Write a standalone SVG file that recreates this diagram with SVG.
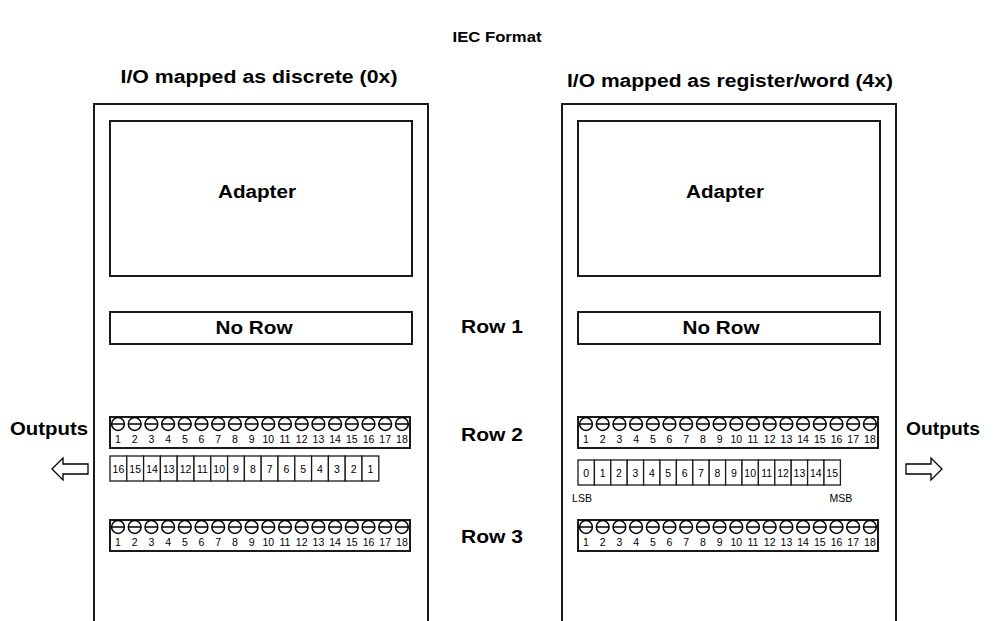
<svg xmlns="http://www.w3.org/2000/svg" xmlns:xlink="http://www.w3.org/1999/xlink" width="997" height="621" viewBox="0 0 997 621">
<style>
.box{fill:#fff;stroke:#1a1a1a;stroke-width:2}
.thin{fill:#fff;stroke:#1a1a1a;stroke-width:1.3}
.t{font-family:"Liberation Sans",Arial,sans-serif;font-weight:bold;fill:#000}
.n{font-family:"Liberation Sans",Arial,sans-serif;font-size:10.5px;fill:#000;text-anchor:middle}
.s{fill:#fff;stroke:#000;stroke-width:1.5}
.arr{fill:#fff;stroke:#000;stroke-width:1.3}
</style>
<defs>
<g id="screw"><circle class="s" r="6.4"/><line x1="-6.4" y1="0" x2="6.4" y2="0" stroke="#000" stroke-width="1.5"/></g>
</defs>
<rect width="997" height="621" fill="#fff"/>
<text class="t" x="497" y="42" font-size="15" text-anchor="middle" textLength="89" lengthAdjust="spacingAndGlyphs">IEC Format</text>

<g id="left">
<text class="t" x="259" y="83" font-size="18" text-anchor="middle" textLength="277" lengthAdjust="spacingAndGlyphs">I/O mapped as discrete (0x)</text>
<rect class="box" x="94" y="104" width="334" height="520"/>
<g id="left-adapter"><rect class="box" x="110" y="121" width="302" height="155"/>
<text class="t" x="257" y="198" font-size="18" text-anchor="middle" textLength="78" lengthAdjust="spacingAndGlyphs">Adapter</text></g>
<g id="left-norow"><rect class="box" x="110" y="312" width="302" height="32"/>
<text class="t" x="254" y="334" font-size="18" text-anchor="middle" textLength="77" lengthAdjust="spacingAndGlyphs">No Row</text></g>
<g id="left-row2">
<rect class="box" x="110" y="417" width="300" height="31"/>
<use xlink:href="#screw" x="118" y="424"/><use xlink:href="#screw" x="134.7" y="424"/><use xlink:href="#screw" x="151.4" y="424"/><use xlink:href="#screw" x="168.1" y="424"/><use xlink:href="#screw" x="184.8" y="424"/><use xlink:href="#screw" x="201.5" y="424"/><use xlink:href="#screw" x="218.2" y="424"/><use xlink:href="#screw" x="234.9" y="424"/><use xlink:href="#screw" x="251.6" y="424"/><use xlink:href="#screw" x="268.3" y="424"/><use xlink:href="#screw" x="285" y="424"/><use xlink:href="#screw" x="301.7" y="424"/><use xlink:href="#screw" x="318.4" y="424"/><use xlink:href="#screw" x="335.1" y="424"/><use xlink:href="#screw" x="351.8" y="424"/><use xlink:href="#screw" x="368.5" y="424"/><use xlink:href="#screw" x="385.2" y="424"/><use xlink:href="#screw" x="401.9" y="424"/>
<text class="n" x="118" y="443">1</text><text class="n" x="134.7" y="443">2</text><text class="n" x="151.4" y="443">3</text><text class="n" x="168.1" y="443">4</text><text class="n" x="184.8" y="443">5</text><text class="n" x="201.5" y="443">6</text><text class="n" x="218.2" y="443">7</text><text class="n" x="234.9" y="443">8</text><text class="n" x="251.6" y="443">9</text><text class="n" x="268.3" y="443">10</text><text class="n" x="285" y="443">11</text><text class="n" x="301.7" y="443">12</text><text class="n" x="318.4" y="443">13</text><text class="n" x="335.1" y="443">14</text><text class="n" x="351.8" y="443">15</text><text class="n" x="368.5" y="443">16</text><text class="n" x="385.2" y="443">17</text><text class="n" x="401.9" y="443">18</text>
</g>
<g id="left-bits">
<rect class="thin" x="110" y="456" width="16.8" height="25"/><rect class="thin" x="126.8" y="456" width="16.8" height="25"/><rect class="thin" x="143.6" y="456" width="16.8" height="25"/><rect class="thin" x="160.4" y="456" width="16.8" height="25"/><rect class="thin" x="177.2" y="456" width="16.8" height="25"/><rect class="thin" x="194" y="456" width="16.8" height="25"/><rect class="thin" x="210.8" y="456" width="16.8" height="25"/><rect class="thin" x="227.6" y="456" width="16.8" height="25"/><rect class="thin" x="244.4" y="456" width="16.8" height="25"/><rect class="thin" x="261.2" y="456" width="16.8" height="25"/><rect class="thin" x="278" y="456" width="16.8" height="25"/><rect class="thin" x="294.8" y="456" width="16.8" height="25"/><rect class="thin" x="311.6" y="456" width="16.8" height="25"/><rect class="thin" x="328.4" y="456" width="16.8" height="25"/><rect class="thin" x="345.2" y="456" width="16.8" height="25"/><rect class="thin" x="362" y="456" width="16.8" height="25"/>
<text class="n" x="118.4" y="473">16</text><text class="n" x="135.2" y="473">15</text><text class="n" x="152" y="473">14</text><text class="n" x="168.8" y="473">13</text><text class="n" x="185.6" y="473">12</text><text class="n" x="202.4" y="473">11</text><text class="n" x="219.2" y="473">10</text><text class="n" x="236" y="473">9</text><text class="n" x="252.8" y="473">8</text><text class="n" x="269.6" y="473">7</text><text class="n" x="286.4" y="473">6</text><text class="n" x="303.2" y="473">5</text><text class="n" x="320" y="473">4</text><text class="n" x="336.8" y="473">3</text><text class="n" x="353.6" y="473">2</text><text class="n" x="370.4" y="473">1</text>
</g>
<g id="left-row3">
<rect class="box" x="110" y="520" width="300" height="31"/>
<use xlink:href="#screw" x="118" y="527"/><use xlink:href="#screw" x="134.7" y="527"/><use xlink:href="#screw" x="151.4" y="527"/><use xlink:href="#screw" x="168.1" y="527"/><use xlink:href="#screw" x="184.8" y="527"/><use xlink:href="#screw" x="201.5" y="527"/><use xlink:href="#screw" x="218.2" y="527"/><use xlink:href="#screw" x="234.9" y="527"/><use xlink:href="#screw" x="251.6" y="527"/><use xlink:href="#screw" x="268.3" y="527"/><use xlink:href="#screw" x="285" y="527"/><use xlink:href="#screw" x="301.7" y="527"/><use xlink:href="#screw" x="318.4" y="527"/><use xlink:href="#screw" x="335.1" y="527"/><use xlink:href="#screw" x="351.8" y="527"/><use xlink:href="#screw" x="368.5" y="527"/><use xlink:href="#screw" x="385.2" y="527"/><use xlink:href="#screw" x="401.9" y="527"/>
<text class="n" x="118" y="546">1</text><text class="n" x="134.7" y="546">2</text><text class="n" x="151.4" y="546">3</text><text class="n" x="168.1" y="546">4</text><text class="n" x="184.8" y="546">5</text><text class="n" x="201.5" y="546">6</text><text class="n" x="218.2" y="546">7</text><text class="n" x="234.9" y="546">8</text><text class="n" x="251.6" y="546">9</text><text class="n" x="268.3" y="546">10</text><text class="n" x="285" y="546">11</text><text class="n" x="301.7" y="546">12</text><text class="n" x="318.4" y="546">13</text><text class="n" x="335.1" y="546">14</text><text class="n" x="351.8" y="546">15</text><text class="n" x="368.5" y="546">16</text><text class="n" x="385.2" y="546">17</text><text class="n" x="401.9" y="546">18</text>
</g>
</g>

<g id="rows">
<text class="t" x="492" y="333" font-size="18" text-anchor="middle" textLength="62" lengthAdjust="spacingAndGlyphs">Row 1</text>
<text class="t" x="492" y="441" font-size="18" text-anchor="middle" textLength="62" lengthAdjust="spacingAndGlyphs">Row 2</text>
<text class="t" x="492" y="543" font-size="18" text-anchor="middle" textLength="62" lengthAdjust="spacingAndGlyphs">Row 3</text>
</g>

<g id="right">
<text class="t" x="730" y="87" font-size="18" text-anchor="middle" textLength="326" lengthAdjust="spacingAndGlyphs">I/O mapped as register/word (4x)</text>
<rect class="box" x="562" y="104" width="334" height="520"/>
<g id="right-adapter"><rect class="box" x="578" y="121" width="302" height="155"/>
<text class="t" x="725" y="198" font-size="18" text-anchor="middle" textLength="78" lengthAdjust="spacingAndGlyphs">Adapter</text></g>
<g id="right-norow"><rect class="box" x="578" y="312" width="302" height="32"/>
<text class="t" x="721" y="334" font-size="18" text-anchor="middle" textLength="77" lengthAdjust="spacingAndGlyphs">No Row</text></g>
<g id="right-row2">
<rect class="box" x="578" y="417" width="300" height="31"/>
<use xlink:href="#screw" x="586" y="424"/><use xlink:href="#screw" x="602.7" y="424"/><use xlink:href="#screw" x="619.4" y="424"/><use xlink:href="#screw" x="636.1" y="424"/><use xlink:href="#screw" x="652.8" y="424"/><use xlink:href="#screw" x="669.5" y="424"/><use xlink:href="#screw" x="686.2" y="424"/><use xlink:href="#screw" x="702.9" y="424"/><use xlink:href="#screw" x="719.6" y="424"/><use xlink:href="#screw" x="736.3" y="424"/><use xlink:href="#screw" x="753" y="424"/><use xlink:href="#screw" x="769.7" y="424"/><use xlink:href="#screw" x="786.4" y="424"/><use xlink:href="#screw" x="803.1" y="424"/><use xlink:href="#screw" x="819.8" y="424"/><use xlink:href="#screw" x="836.5" y="424"/><use xlink:href="#screw" x="853.2" y="424"/><use xlink:href="#screw" x="869.9" y="424"/>
<text class="n" x="586" y="443">1</text><text class="n" x="602.7" y="443">2</text><text class="n" x="619.4" y="443">3</text><text class="n" x="636.1" y="443">4</text><text class="n" x="652.8" y="443">5</text><text class="n" x="669.5" y="443">6</text><text class="n" x="686.2" y="443">7</text><text class="n" x="702.9" y="443">8</text><text class="n" x="719.6" y="443">9</text><text class="n" x="736.3" y="443">10</text><text class="n" x="753" y="443">11</text><text class="n" x="769.7" y="443">12</text><text class="n" x="786.4" y="443">13</text><text class="n" x="803.1" y="443">14</text><text class="n" x="819.8" y="443">15</text><text class="n" x="836.5" y="443">16</text><text class="n" x="853.2" y="443">17</text><text class="n" x="869.9" y="443">18</text>
</g>
<g id="right-bits">
<rect class="thin" x="578" y="460" width="16.4" height="25"/><rect class="thin" x="594.4" y="460" width="16.4" height="25"/><rect class="thin" x="610.8" y="460" width="16.4" height="25"/><rect class="thin" x="627.2" y="460" width="16.4" height="25"/><rect class="thin" x="643.6" y="460" width="16.4" height="25"/><rect class="thin" x="660" y="460" width="16.4" height="25"/><rect class="thin" x="676.4" y="460" width="16.4" height="25"/><rect class="thin" x="692.8" y="460" width="16.4" height="25"/><rect class="thin" x="709.2" y="460" width="16.4" height="25"/><rect class="thin" x="725.6" y="460" width="16.4" height="25"/><rect class="thin" x="742" y="460" width="16.4" height="25"/><rect class="thin" x="758.4" y="460" width="16.4" height="25"/><rect class="thin" x="774.8" y="460" width="16.4" height="25"/><rect class="thin" x="791.2" y="460" width="16.4" height="25"/><rect class="thin" x="807.6" y="460" width="16.4" height="25"/><rect class="thin" x="824" y="460" width="16.4" height="25"/>
<text class="n" x="586.2" y="477">0</text><text class="n" x="602.6" y="477">1</text><text class="n" x="619" y="477">2</text><text class="n" x="635.4" y="477">3</text><text class="n" x="651.8" y="477">4</text><text class="n" x="668.2" y="477">5</text><text class="n" x="684.6" y="477">6</text><text class="n" x="701" y="477">7</text><text class="n" x="717.4" y="477">8</text><text class="n" x="733.8" y="477">9</text><text class="n" x="750.2" y="477">10</text><text class="n" x="766.6" y="477">11</text><text class="n" x="783" y="477">12</text><text class="n" x="799.4" y="477">13</text><text class="n" x="815.8" y="477">14</text><text class="n" x="832.2" y="477">15</text>
<text class="n" x="582" y="502">LSB</text><text class="n" x="841" y="502">MSB</text>
</g>
<g id="right-row3">
<rect class="box" x="578" y="520" width="300" height="31"/>
<use xlink:href="#screw" x="586" y="527"/><use xlink:href="#screw" x="602.7" y="527"/><use xlink:href="#screw" x="619.4" y="527"/><use xlink:href="#screw" x="636.1" y="527"/><use xlink:href="#screw" x="652.8" y="527"/><use xlink:href="#screw" x="669.5" y="527"/><use xlink:href="#screw" x="686.2" y="527"/><use xlink:href="#screw" x="702.9" y="527"/><use xlink:href="#screw" x="719.6" y="527"/><use xlink:href="#screw" x="736.3" y="527"/><use xlink:href="#screw" x="753" y="527"/><use xlink:href="#screw" x="769.7" y="527"/><use xlink:href="#screw" x="786.4" y="527"/><use xlink:href="#screw" x="803.1" y="527"/><use xlink:href="#screw" x="819.8" y="527"/><use xlink:href="#screw" x="836.5" y="527"/><use xlink:href="#screw" x="853.2" y="527"/><use xlink:href="#screw" x="869.9" y="527"/>
<text class="n" x="586" y="546">1</text><text class="n" x="602.7" y="546">2</text><text class="n" x="619.4" y="546">3</text><text class="n" x="636.1" y="546">4</text><text class="n" x="652.8" y="546">5</text><text class="n" x="669.5" y="546">6</text><text class="n" x="686.2" y="546">7</text><text class="n" x="702.9" y="546">8</text><text class="n" x="719.6" y="546">9</text><text class="n" x="736.3" y="546">10</text><text class="n" x="753" y="546">11</text><text class="n" x="769.7" y="546">12</text><text class="n" x="786.4" y="546">13</text><text class="n" x="803.1" y="546">14</text><text class="n" x="819.8" y="546">15</text><text class="n" x="836.5" y="546">16</text><text class="n" x="853.2" y="546">17</text><text class="n" x="869.9" y="546">18</text>
</g>
</g>

<g id="outputs-left">
<text class="t" x="49" y="435" font-size="18" text-anchor="middle" textLength="78" lengthAdjust="spacingAndGlyphs">Outputs</text>
</g>
<g id="outputs-right">
<text class="t" x="943" y="435" font-size="18" text-anchor="middle" textLength="74" lengthAdjust="spacingAndGlyphs">Outputs</text>
</g>
<g id="connectors">
<polygon class="arr" points="52,469 63,458 63,464 88,464 88,474 63,474 63,480"/>
<polygon class="arr" points="942,469 931,458 931,464 906,464 906,474 931,474 931,480"/>
</g>
</svg>
